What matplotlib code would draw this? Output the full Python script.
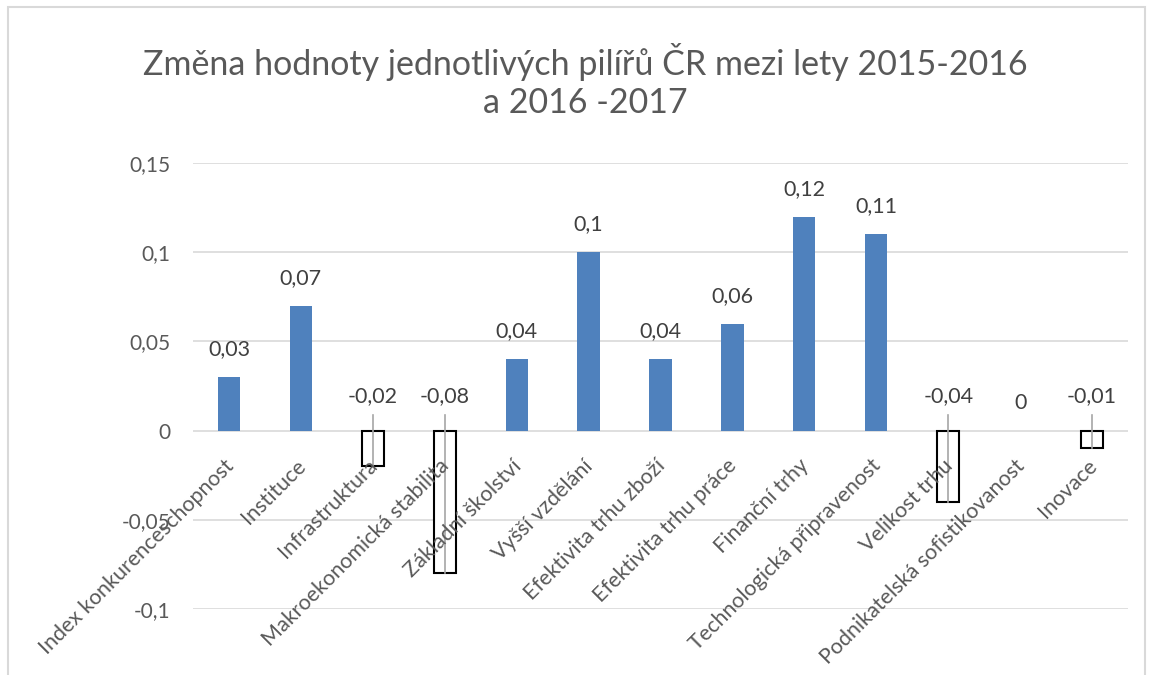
import numpy as np
import matplotlib
matplotlib.use('Agg')
import matplotlib.pyplot as plt
from matplotlib.patches import Rectangle

plt.rcParams['font.family'] = ['Lato', 'DejaVu Sans']

categories = ['Index konkurenceschopnost', 'Instituce', 'Infrastruktura',
              'Makroekonomická stabilita', 'Základní školství', 'Vyšší vzdělání',
              'Efektivita trhu zboží', 'Efektivita trhu práce', 'Finanční trhy',
              'Technologická připravenost', 'Velikost trhu',
              'Podnikatelská sofistikovanost', 'Inovace']
values = [0.03, 0.07, -0.02, -0.08, 0.04, 0.10, 0.04, 0.06, 0.12, 0.11, -0.04, 0.0, -0.01]
yticks = [-0.1, -0.05, 0, 0.05, 0.1, 0.15]
ytick_labels = ['-0,1', '-0,05', '0', '0,05', '0,1', '0,15']

blue = '#4f81bd'
text_col = '#595959'
grid_col = '#d9d9d9'


def fmt(v):
    if v == 0:
        return '0'
    return ('%g' % v).replace('.', ',')


W, H = 1152, 675
fig = plt.figure(figsize=(W / 100, H / 100), dpi=100)
fig.patches.append(Rectangle((8 / W, -0.05), 1137 / W, 1.05 - 7 / H,
                             transform=fig.transFigure, fill=False,
                             edgecolor=grid_col, linewidth=1.5))

ax = fig.add_axes([193 / W, (H - 609) / H, (1128 - 193) / W, (609 - 163) / H])
ax.set_xlim(-0.5, len(categories) - 0.5)
ax.set_ylim(-0.1, 0.15)

x = np.arange(len(categories))
for xi, v in zip(x, values):
    if v >= 0:
        ax.bar(xi, v, width=0.31, color=blue, zorder=3)
    else:
        ax.bar(xi, v, width=0.31, facecolor='white', edgecolor='black',
               linewidth=1.5, zorder=3)

# data labels
for xi, v in zip(x, values):
    if v >= 0:
        ax.annotate(fmt(v), (xi, v), xytext=(0, 20), textcoords='offset points',
                    ha='center', va='center', fontsize=15.5, color='#404040')
    else:
        ax.text(xi, 0.0195, fmt(v), ha='center', va='center', fontsize=15.5,
                color='#404040', zorder=5)
        ax.plot([xi, xi], [0.0085, v], color='#a6a6a6', linewidth=1.2, zorder=4)

ax.set_yticks(yticks)
ax.set_yticklabels(ytick_labels, fontsize=15, color=text_col)
ax.tick_params(axis='y', length=0, pad=16.5)
ax.set_xticks([])
ax.yaxis.grid(True, color=grid_col, linewidth=1.2, zorder=0)
ax.set_axisbelow(True)
for s in ax.spines.values():
    s.set_visible(False)

# category labels along zero line
for xi, c in zip(x, categories):
    ax.annotate(c, (xi, 0), xytext=(-4, -18), textcoords='offset points',
                ha='right', va='top', rotation=45, rotation_mode='anchor',
                fontsize=15.5, color=text_col, zorder=6)

fig.text(585 / W, 1 - 62 / H, 'Změna hodnoty jednotlivých pilířů ČR mezi lety 2015-2016',
         ha='center', va='center', fontsize=24.5, color=text_col)
fig.text(585 / W, 1 - 103 / H, 'a 2016 -2017',
         ha='center', va='center', fontsize=24.5, color=text_col)

fig.savefig('out.png', dpi=100)
